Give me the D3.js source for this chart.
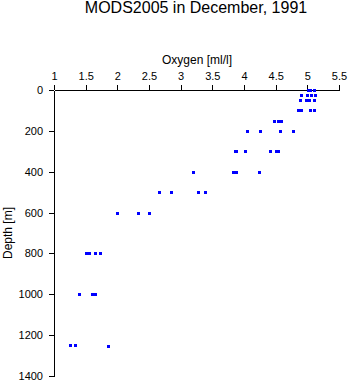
<!DOCTYPE html>
<html>
<head>
<meta charset="utf-8">
<script src="https://cdn.jsdelivr.net/npm/d3@7"></script>
<style>
  html, body { margin: 0; padding: 0; background: #fff; }
  svg { display: block; font-family: "Liberation Sans", Arial, sans-serif; }
</style>
</head>
<body>
<svg id="chart" width="350" height="384"></svg>
<script>
// ---- data ----
const title = "MODS2005 in December, 1991";
const xLabel = "Oxygen [ml/l]";
const yLabel = "Depth [m]";
const xTicks = [1, 1.5, 2, 2.5, 3, 3.5, 4, 4.5, 5, 5.5];
const yTicks = [0, 200, 400, 600, 800, 1000, 1200, 1400];
const depths = [
  0, 0, 0,
  25, 25, 25, 25,
  50, 50, 50, 50,
  100, 100, 100, 100,
  150, 150, 150,
  200, 200, 200, 200,
  300, 300, 300, 300, 300, 300,
  400, 400, 400, 400,
  500, 500, 500, 500,
  600, 600, 600,
  800, 800, 800, 800,
  1000, 1000, 1000,
  1250, 1250, 1255
];
const oxygen = [
  5.01, 5.04, 5.10,
  4.90, 4.99, 5.06, 5.12,
  4.88, 4.98, 5.03, 5.11,
  4.86, 4.90, 5.04, 5.11,
  4.47, 4.53, 4.58,
  4.05, 4.25, 4.57, 4.77,
  3.86, 3.88, 4.02, 4.41, 4.50, 4.53,
  3.20, 3.82, 3.87, 4.23,
  2.66, 2.84, 3.28, 3.38,
  2.00, 2.33, 2.50,
  1.50, 1.55, 1.64, 1.73,
  1.40, 1.60, 1.65,
  1.26, 1.33, 1.85
];

// ---- chart ----
const svg = d3.select("#chart");
const x = d3.scaleLinear().domain([1, 5.5]).range([54, 339]);
const y = d3.scaleLinear().domain([0, 1400]).range([90, 376]);

svg.append("text")
  .attr("x", 196).attr("y", 13)
  .attr("text-anchor", "middle")
  .attr("font-size", 16)
  .text(title);

const xAxis = svg.append("g")
  .attr("transform", "translate(0,90)")
  .call(d3.axisTop(x).tickValues(xTicks).tickFormat(d3.format("")).tickSize(5).tickSizeOuter(0).tickPadding(5));
xAxis.selectAll("text").attr("font-size", 11).attr("font-family", null);

const yAxis = svg.append("g")
  .attr("transform", "translate(54,0)")
  .call(d3.axisLeft(y).tickValues(yTicks).tickFormat(d3.format("")).tickSize(5).tickSizeOuter(0).tickPadding(6));
yAxis.selectAll("text").attr("font-size", 11).attr("font-family", null);

svg.selectAll(".domain, .tick line").attr("stroke", "#000").attr("shape-rendering", "crispEdges");

svg.append("text")
  .attr("x", 197).attr("y", 64)
  .attr("text-anchor", "middle")
  .attr("font-size", 12)
  .text(xLabel);

svg.append("text")
  .attr("transform", "translate(12,233) rotate(-90)")
  .attr("text-anchor", "middle")
  .attr("font-size", 12)
  .text(yLabel);

const pts = depths.map((d, i) => ({ d, o: oxygen[i] }));
svg.append("g").selectAll("rect")
  .data(pts).enter().append("rect")
  .attr("x", p => Math.round(x(p.o)) - 1.5)
  .attr("y", p => Math.round(y(p.d)) - 1.5)
  .attr("width", 3).attr("height", 3)
  .attr("fill", "#0000ff")
  .attr("shape-rendering", "crispEdges");
</script>
</body>
</html>
